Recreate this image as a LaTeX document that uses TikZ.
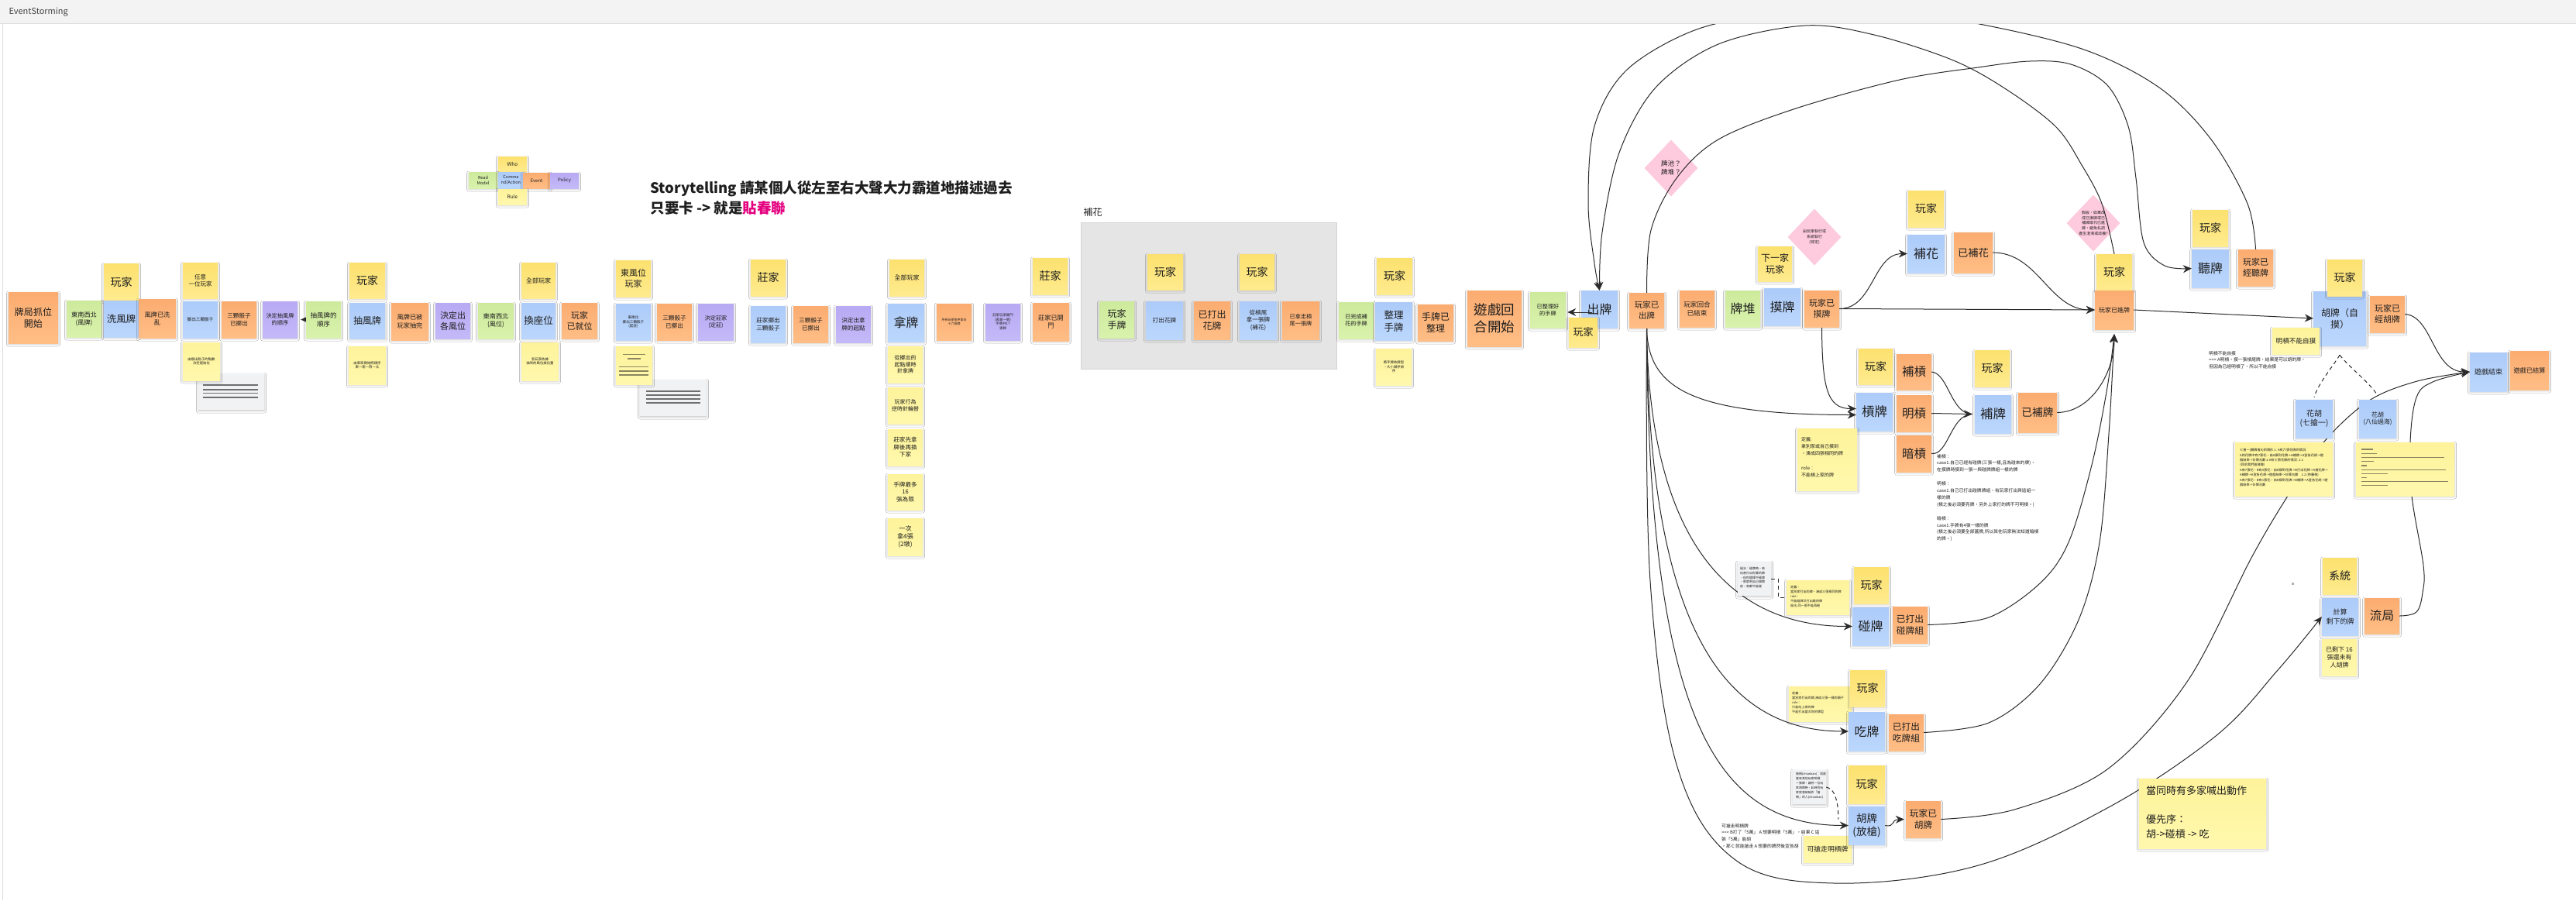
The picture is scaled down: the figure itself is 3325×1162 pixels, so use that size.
\documentclass[tikz,border=0pt]{standalone}
\usepackage{fontspec}
\setmainfont{Noto Sans CJK TC}
\usetikzlibrary{arrows.meta,shapes.geometric,shadows.blur}

\definecolor{Y1}{HTML}{FCE16E}\definecolor{Y2}{HTML}{FFEB8F}
\definecolor{R1}{HTML}{FEF39B}\definecolor{R2}{HTML}{FFF8AD}
\definecolor{B1}{HTML}{ADCBF9}\definecolor{B2}{HTML}{BBD7FD}
\definecolor{O1}{HTML}{FBAC70}\definecolor{O2}{HTML}{FFBE86}
\definecolor{G1}{HTML}{CDEA9C}\definecolor{G2}{HTML}{D9F2AC}
\definecolor{P1}{HTML}{B8AAF3}\definecolor{P2}{HTML}{C4B9F8}
\definecolor{pinkD}{HTML}{FECADD}
\definecolor{gboxF}{HTML}{E5E5E5}\definecolor{gboxD}{HTML}{D3D3D3}
\definecolor{gnoteF}{HTML}{F1F2F4}
\definecolor{ink}{HTML}{1E1E1E}
\definecolor{lk}{HTML}{2B2B2B}
\definecolor{phl}{HTML}{6E6E6E}
\definecolor{phy}{HTML}{8A8560}
\definecolor{springred}{HTML}{E4007F}
\definecolor{hdrfill}{HTML}{F3F3F3}
\definecolor{hdrline}{HTML}{DCDCDC}
\definecolor{hdrtext}{HTML}{444444}

\pgfdeclarelayer{back}
\pgfdeclarelayer{links}
\pgfdeclarelayer{front}
\pgfsetlayers{back,links,main,front}

\tikzset{
  fs/.code={\pgfmathsetmacro\fsbase{#1*1.25}%
    \edef\fsdo{\noexpand\pgfkeysalso{font=\noexpand\fontsize{#1}{\fsbase}\noexpand\selectfont}}\fsdo},
  fsb/.style 2 args={font=\fontsize{#1}{#2}\selectfont},
  stk/.style={draw=none, inner sep=1pt, align=center, text=ink,
    blur shadow={shadow xshift=0pt, shadow yshift=-1.5pt, shadow blur radius=2.5pt, shadow opacity=22}},
  who/.style={stk, top color=Y1, bottom color=Y2},
  rul/.style={stk, top color=R1, bottom color=R2},
  cmd/.style={stk, top color=B1, bottom color=B2},
  evt/.style={stk, top color=O1, bottom color=O2},
  rm/.style={stk, top color=G1, bottom color=G2},
  pol/.style={stk, top color=P1, bottom color=P2},
  gnote/.style={stk, fill=gnoteF},
  flowerbox/.style={draw=gboxD, line width=0.8pt, fill=gboxF},
  dia/.style={diamond, fill=pinkD, inner sep=0pt, align=center, text=ink, minimum width=69pt, minimum height=73pt},
  txt/.style={inner sep=0pt, align=left, text=ink},
  ln/.style={draw=lk, line width=1pt},
  arr/.style={ln, -{Stealth[length=11pt,width=10pt]}},
  dsh/.style={ln, dash pattern=on 5pt off 4pt},
  phline/.style={draw=phl, line width=1.4pt},
  phyline/.style={draw=phy, line width=1.2pt}
}

% sticky note from its corners: style, name, x1, y1, x2, y2, font size, text
\newcommand\mknote[8]{%
  \node[#1, fs=#7, minimum width={(#5)-(#3)}, minimum height={(#6)-(#4)}]
    (#2) at ({((#3)+(#5))/2},{((#4)+(#6))/2}) {#8};}

\begin{document}
\begin{tikzpicture}[x=1pt,y=-1pt]
\useasboundingbox (0,0) rectangle (3325,1162);

\node[anchor=south west, fs=12, text=ink] (flowerLbl) at (1395,283) {補花};

% headline
\node[anchor=base west, fs=18.5, text=ink] (storyA) at (836,249)
  {\bfseries Storytelling 請某個人從左至右大聲大力霸道地描述過去};
\node[anchor=base west, fs=18.5, text=ink] (storyB) at (836,275)
  {\bfseries 只要卡 -> 就是\textcolor{springred}{貼春聯}};

% legend
\mknote{who}{lgWho}{643}{202}{680}{221}{6.5}{Who}
\mknote{rm}{lgRead}{605}{222}{642}{243}{5.5}{Read\\Model}
\mknote{cmd}{lgCmd}{643}{222}{676}{243}{5.5}{Comma\\nd/Action}
\mknote{evt}{lgEvt}{675}{223}{710}{243}{6}{Event}
\mknote{pol}{lgPol}{710}{223}{747}{243}{6}{Policy}
\mknote{rul}{lgRule}{643}{244}{680}{264}{6.5}{Rule}

% ---------- seating ----------
\mknote{evt}{evStart}{11}{377}{75}{443}{12}{牌局抓位\\開始}
\mknote{rm}{rmWind}{86}{388}{131}{435}{8.2}{東南西北\\(風牌)}
\mknote{who}{whoA}{134}{340}{179}{388}{14}{玩家}
\mknote{cmd}{cmdShuffle}{134}{388}{179}{435}{12.5}{洗風牌}
\mknote{evt}{evShuffled}{179}{386}{227}{436}{8.2}{風牌已洗\\亂}
\mknote{who}{whoAny}{236}{339}{281}{385}{7.5}{任意\\一位玩家}
\mknote{cmd}{cmdDice}{236}{389}{281}{436}{5.6}{擲出三顆骰子}
\mknote{gnote}{gnA}{256}{482}{341}{529}{4}{}
\mknote{rul}{rulDice}{236}{442}{284}{491}{4.4}{由骰出點子的點數\\決定起始位}
\mknote{evt}{evDice}{286}{389}{331}{436}{7.6}{三顆骰子\\已擲出}
\mknote{pol}{polOrder}{339}{389}{384}{436}{7.2}{決定抽風牌\\的順序}
\mknote{rm}{rmOrder}{395}{389}{440}{436}{8.5}{抽風牌的\\順序}
\mknote{who}{whoB}{451}{339}{497}{385}{14}{玩家}
\mknote{cmd}{cmdDraw}{451}{391}{497}{437}{12}{抽風牌}
\mknote{rul}{rulDraw}{450}{447}{498}{496}{4.4}{由東家開始照順序\\東一南一西一北}
\mknote{evt}{evDrawn}{505}{391}{553}{439}{8.2}{風牌已被\\玩家抽完}

\mknote{pol}{polSeat}{562}{391}{607}{437}{11}{決定出\\各風位}
\mknote{rm}{rmSeat}{617}{391}{663}{437}{8.2}{東南西北\\(風位)}
\mknote{who}{whoAll}{673}{339}{717}{385}{8}{全部玩家}
\mknote{cmd}{cmdSwap}{673}{391}{717}{437}{12.5}{換座位}
\mknote{rul}{rulSwap}{673}{442}{721}{491}{4.4}{各玩家依據\\抽到的風位換位置}
\mknote{evt}{evSeated}{725}{391}{771}{437}{11}{玩家\\已就位}

% ---------- dealer ----------
\mknote{who}{whoEast}{795}{336}{840}{383}{11}{東風位\\玩家}
\mknote{cmd}{cmdEastDice}{795}{392}{840}{439}{4.6}{東風位\\擲出三顆骰子\\(起莊)}
\mknote{gnote}{gnB}{826}{490}{912}{537}{4}{}
\mknote{rul}{rulEast}{795}{447}{842}{496}{4}{}
\mknote{evt}{evDice2}{848}{392}{893}{439}{7.6}{三顆骰子\\已擲出}
\mknote{pol}{polDealer}{901}{392}{947}{439}{7.2}{決定莊家\\(定莊)}
\mknote{who}{whoDealer}{969}{335}{1014}{382}{14}{莊家}
\mknote{cmd}{cmdDealerDice}{969}{395}{1014}{442}{7.6}{莊家擲出\\三顆骰子}
\mknote{evt}{evDice3}{1024}{395}{1069}{442}{7.6}{三顆骰子\\已擲出}
\mknote{pol}{polStart}{1079}{395}{1124}{442}{7.6}{決定出拿\\牌的起點}

% ---------- dealing ----------
\mknote{who}{whoAll2}{1148}{335}{1193}{382}{8}{全部玩家}
\mknote{cmd}{cmdTake}{1146}{392}{1193}{441}{16}{拿牌}
\mknote{rul}{rulTakeA}{1146}{447}{1191}{494}{7}{從擲出的\\起點順時\\針拿牌}
\mknote{rul}{rulTakeB}{1146}{500}{1191}{547}{7}{玩家行為\\逆時針輪替}
\mknote{rul}{rulTakeC}{1146}{554}{1191}{601}{7.6}{莊家先拿\\牌後再換\\下家}
\mknote{rul}{rulTakeD}{1146}{612}{1191}{658}{7.6}{手牌最多\\16\\張為限}
\mknote{rul}{rulTakeE}{1146}{669}{1191}{717}{8.2}{一次\\拿4張\\(2墩)}
\mknote{evt}{evTaken}{1209}{392}{1254}{439}{4}{所有玩家依序拿去\\十六張牌}
\mknote{pol}{polOpen}{1272}{392}{1317}{439}{4.4}{莊家玩家開門\\(再拿一張)\\手牌共17\\張牌}
\mknote{who}{whoDealer2}{1333}{333}{1378}{380}{14}{莊家}
\mknote{evt}{evOpened}{1333}{391}{1380}{440}{8.2}{莊家已開\\門}

% ---------- flowers ----------
\mknote{rm}{rmHand}{1419}{389}{1464}{436}{12}{玩家\\手牌}
\mknote{who}{whoF1}{1481}{328}{1527}{374}{14}{玩家}
\mknote{cmd}{cmdFlower}{1479}{389}{1527}{438}{7.6}{打出花牌}
\mknote{evt}{evFlower}{1541}{389}{1588}{438}{12}{已打出\\花牌}
\mknote{who}{whoF2}{1600}{328}{1645}{374}{14}{玩家}
\mknote{cmd}{cmdTail}{1600}{389}{1648}{438}{7.6}{從槓尾\\拿一張牌\\(補花)}
\mknote{evt}{evTail}{1655}{389}{1703}{438}{7.2}{已拿走槓\\尾一張牌}
\mknote{rm}{rmDone}{1728}{390}{1773}{437}{7.2}{已完成補\\花的手牌}
\mknote{who}{whoSort}{1777}{333}{1823}{380}{14}{玩家}
\mknote{cmd}{cmdSort}{1775}{390}{1823}{439}{12.5}{整理\\手牌}
\mknote{evt}{evSorted}{1830}{393}{1876}{440}{12}{手牌已\\整理}
\mknote{rul}{rulSort}{1776}{450}{1822}{497}{4.4}{將手牌依牌型\\、大小順序排\\序}

% ---------- round ----------
\mknote{evt}{evRound}{1894}{375}{1964}{447}{17.5}{遊戲回\\合開始}
\mknote{rm}{rmSorted}{1975}{377}{2021}{423}{7.2}{已整理好\\的手牌}
\mknote{cmd}{cmdDiscard}{2041}{375}{2088}{423}{16}{出牌}
\mknote{who}{whoDiscard}{2025}{410}{2062}{448}{13}{玩家}
\mknote{evt}{evDiscarded}{2103}{378}{2148}{423}{10.5}{玩家已\\出牌}
\mknote{evt}{evTurnEnd}{2168}{375}{2213}{422}{8.6}{玩家回合\\已結束}
\mknote{rm}{rmWall}{2227}{375}{2272}{422}{16}{牌堆}
\mknote{cmd}{cmdPick}{2277}{372}{2324}{420}{16}{摸牌}
\mknote{who}{whoNext}{2269}{318}{2313}{363}{12}{下一家\\玩家}
\mknote{evt}{evPicked}{2329}{375}{2374}{422}{11}{玩家已\\摸牌}

\mknote{who}{whoFl}{2463}{246}{2509}{293}{14}{玩家}
\mknote{cmd}{cmdBuhua}{2462}{303}{2510}{352}{16}{補花}
\mknote{evt}{evBuhua}{2522}{300}{2572}{352}{13.3}{已補花}
\mknote{who}{whoIn}{2706}{328}{2752}{375}{14}{玩家}
\mknote{evt}{evIn}{2704}{375}{2754}{425}{8}{玩家已進牌}
\mknote{who}{whoTing}{2830}{271}{2876}{318}{14}{玩家}
\mknote{cmd}{cmdTing}{2829}{322}{2877}{371}{16}{聽牌}
\mknote{evt}{evTing}{2889}{322}{2934}{369}{11}{玩家已\\經聽牌}
\mknote{cmd}{cmdSelfWin}{2986}{376}{3054}{446}{12}{胡牌（自\\摸）}
\mknote{who}{whoSelf}{3004}{335}{3049}{382}{14}{玩家}
\mknote{rul}{rulSelf}{2933}{423}{2994}{457}{8.6}{明槓不能自摸}
\mknote{evt}{evSelfWin}{3059}{382}{3104}{429}{11}{玩家已\\經胡牌}
\mknote{cmd}{cmdFlowerA}{2963}{516}{3011}{565}{10}{花胡\\(七搶一)}
\mknote{cmd}{cmdFlowerB}{3045}{516}{3093}{565}{7.9}{花胡\\(八仙過海)}
\mknote{rul}{rulFlowerA}{2885}{571}{3011}{640}{4}{}
\mknote{rul}{rulFlowerB}{3041}{571}{3168}{640}{4}{}
\mknote{cmd}{cmdEnd}{3188}{455}{3236}{505}{9}{遊戲結束}
\mknote{evt}{evEnd}{3240}{453}{3290}{503}{8.2}{遊戲已結算}
\mknote{who}{whoSys}{2998}{720}{3042}{767}{14}{系統}
\mknote{cmd}{cmdCount}{2997}{772}{3044}{820}{9}{計算\\剩下的牌}
\mknote{evt}{evDraw}{3052}{772}{3097}{818}{15.6}{流局}
\mknote{rul}{rulCount}{2997}{825}{3042}{872}{8}{已剩下 16\\張還未有\\人胡牌}
\mknote{rul}{rulPriority}{2761}{1005}{2925}{1095}{13}{}

% ---------- kong ----------
\mknote{who}{whoKong}{2399}{450}{2443}{496}{14}{玩家}
\mknote{evt}{evAddKong}{2448}{457}{2493}{503}{15.5}{補槓}
\mknote{cmd}{cmdKong}{2396}{507}{2443}{556}{16.5}{槓牌}
\mknote{evt}{evOpenKong}{2448}{510}{2493}{557}{15.5}{明槓}
\mknote{evt}{evHiddenKong}{2448}{562}{2493}{609}{15.5}{暗槓}
\mknote{rul}{rulKong}{2320}{553}{2397}{633}{6}{}
\mknote{who}{whoRep}{2549}{452}{2594}{499}{14}{玩家}
\mknote{cmd}{cmdRep}{2549}{510}{2596}{559}{16.5}{補牌}
\mknote{evt}{evRep}{2605}{507}{2655}{558}{13.8}{已補牌}

% ---------- pong / chow / win ----------
\mknote{gnote}{gnPass}{2243}{725}{2286}{769}{4}{}
\mknote{rul}{rulPong}{2306}{749}{2387}{793}{4}{}
\mknote{who}{whoPong}{2393}{732}{2438}{779}{14}{玩家}
\mknote{cmd}{cmdPong}{2391}{784}{2438}{833}{16}{碰牌}
\mknote{evt}{evPong}{2443}{783}{2488}{830}{11.7}{已打出\\碰牌組}
\mknote{rul}{rulChow}{2309}{886}{2390}{931}{4}{}
\mknote{who}{whoChow}{2388}{865}{2433}{912}{14}{玩家}
\mknote{cmd}{cmdChow}{2386}{919}{2433}{969}{16}{吃牌}
\mknote{evt}{evChow}{2438}{922}{2483}{969}{11.7}{已打出\\吃牌組}
\mknote{who}{whoWin}{2386}{988}{2433}{1037}{14}{玩家}
\mknote{rul}{rulRob}{2328}{1079}{2390}{1113}{8.8}{可搶走明槓牌}
\mknote{cmd}{cmdWin}{2386}{1041}{2433}{1090}{13.5}{胡牌\\(放槍)}
\mknote{gnote}{gnRob}{2314}{994}{2357}{1038}{4}{}
\mknote{evt}{evWin}{2460}{1034}{2505}{1081}{11.7}{玩家已\\胡牌}

% ---------- free text and small print ----------
\node[txt, fsb={13}{18.7}, anchor=north west] (priorityTxt) at (2770,1014)
  {當同時有多家喊出動作\\ \\優先序：\\胡->碰槓 -> 吃};
\node[txt, fsb={5.8}{8.5}, anchor=north west] (noteSelf) at (2851,453)
  {明槓不能自摸\\==> A明槓，摸一張槓尾牌，結果是可以胡的牌，\\但因為已經明槓了，所以不能自摸};
\node[txt, fsb={5.8}{8.9}, anchor=north west] (noteKong) at (2500,586)
  {補槓：\\case1.自己已經有碰牌(三張一樣,且為碰來的牌)，\\在摸牌時摸到一張一與碰牌牌組一樣的牌\\ \\明槓：\\case1.自己已打出碰牌牌組，有玩家打出與這組一\\樣的牌\\(槓之後必須要亮牌，另外上家打的牌不可明槓。)\\ \\暗槓：\\case1.手牌有4張一樣的牌\\(槓之後必須要全部蓋牌,所以其他玩家無法知道暗槓\\的牌。)};
\node[txt, fsb={5.8}{8.8}, anchor=north west] (noteRob) at (2222,1063)
  {可搶走明槓牌\\==> B打了「5萬」 A 想要明槓「5萬」，結果 C 這\\張「5萬」能胡\\，那 C 就能搶走 A 想要的牌然後宣告胡};
\node[txt, fsb={6}{9.2}, anchor=north west] (rulKongTxt) at (2325,564)
  {定義:\\拿別家或自己摸到\\，湊成四張相同的牌\\ \\role：\\不能槓上家的牌};
\node[txt, fsb={4.1}{6}, anchor=north west] (rulPongTxt) at (2311,756)
  {定義：\\當別家打出的牌，湊成三張相同的牌\\role：\\不能碰牌又打出碰的牌\\過水,同一張不能再碰};
\node[txt, fsb={4.1}{6}, anchor=north west] (rulChowTxt) at (2313,893)
  {定義：\\當別家打出的牌,湊成三張一樣的順子\\role：\\只能吃上家的牌\\不能打出當次吃的牌型};
\node[txt, fsb={4}{5.8}, anchor=north west] (gnPassTxt) at (2246,732)
  {過水：碰牌時，有\\玩家打出你要的牌\\，但你選擇不碰牌\\，那麼到自己摸牌\\前，就都不能碰};
\node[txt, fsb={3.9}{5.9}, anchor=north west] (gnRobTxt) at (2318,997)
  {搶槓(chiankan)：就是\\當有其他玩家明槓\\一張牌，讓另一位玩\\家胡牌時，此時的玩\\家就會被稱作「搶\\槓」的人(chiankan)};
\node[txt, fsb={4.2}{6.4}, anchor=north west] (rulFlowerTxt) at (2891,579)
  {七搶一(聽牌者A)的情形 1. A有六張花牌的情況:\\A的花牌中有7張花，由A摸到花牌->A補牌->A宣告花胡->遊\\戲結束->計算台數 2.A有七張花牌的情況: 2.1\\(目前我們這樣做)\\A有7張花，B有0張花，由B摸到花牌->B打出花牌->A搶花牌->\\A補牌->A宣告花胡->遊戲結束->計算台數　2.2 (待審核)\\A有7張花，B有1張花，由B摸到花牌->B補牌->A宣告花胡->遊\\戲結束->計算台數};

% placeholder lines for unreadable small print
\foreach \yy in {497,503,507.5,513} \draw[phline] (262,\yy) -- (333,\yy);
\foreach \yy in {505,510,515,520} \draw[phline] (834,\yy) -- (904,\yy);
\draw[phyline] (804,457.5) -- (833,457.5);
\draw[phyline] (810,463) -- (827,463);
\foreach \yy in {473.5,479,484} \draw[phyline] (799,\yy) -- (837,\yy);
\foreach \yy/\xe in {580/3063,585.7/3068,590.7/3155,595.7/3064,601/3055,606.7/3157,611.7/3082,616.7/3055,621.7/3160,626.7/3082}
  \draw[phyline] (3048,\yy) -- (\xe,\yy);

% stray dot
\fill[gray!60] (2958,752) rectangle (2961,755);

% ---------- canvas, frame and open questions (bottom layer) ----------
\begin{pgfonlayer}{back}
\fill[white] (0,0) rectangle (3325,1162);
\node[flowerbox, minimum width=330pt, minimum height=189pt] (flowerBox) at (1560,381.5) {};
\node[dia, fs=8.6] (diaPool) at (2157,217) {牌池？\\牌堆？};
\node[dia, fsb={5}{7}] (diaWho) at (2342,306) {由玩家執行或\\系統執行\\(待定)};
\node[dia, fsb={5}{6.6}] (diaTerm) at (2702,288) {假設，如果改\\成已摸牌或已\\補牌取代已進\\牌，避免名詞\\產生混淆或歧義?};
\end{pgfonlayer}

% ---------- connectors ----------
\begin{pgfonlayer}{links}
\coordinate (inTip) at ([yshift=-6pt]evIn.south);
\draw[arr] ([xshift=6pt]rmOrder.west) -- ([xshift=4pt]polOrder.east);

% discard loops over the top
\draw[arr] plot[smooth, tension=0.55] coordinates {(whoIn.north) (2713,263) (2687,213) (2653,163) (2586,113) (2519,77) (2419,45) (2330,33) (2218,57) (2137,113) (2090,197) (2068,300) (cmdDiscard.north)};
\draw[arr] plot[smooth, tension=0.55] coordinates {(evTing.north) (2901,263) (2854,180) (2787,113) (2687,63) (2539,28) (2420,14) (2300,17) (2190,38) (2100,90) (2058,163) (2050,263) (2058,340) (cmdDiscard.north)};
\draw[arr] plot[smooth, tension=0.55] coordinates {(evDiscarded.north) (2131,297) (2164,230) (2218,180) (2318,140) (2452,103) (2553,87) (2620,79) (2673,83) (2720,110) (2747,163) (2757,230) (2767,313) (2794,343) (cmdTing.west)};

% drawing a tile
\draw[arr] (evPicked.east) to[out=0,in=180] (cmdBuhua.west);
\draw[arr] (evPicked.east) -- (evIn.west);
\draw[arr] (evBuhua.east) to[out=0,in=180] (evIn.west);
\draw[arr] (evPicked.south) .. controls (2352,500) and (2358,527.5) .. ([yshift=4pt]cmdKong.west);

% claims on a discarded tile
\draw[arr] (evDiscarded.south) .. controls (2127,500) and (2180,535.5) .. ([yshift=-4pt]cmdKong.west);
\draw[arr] (evDiscarded.south) .. controls (2128,680) and (2220,808.5) .. (cmdPong.west);
\draw[arr] (evDiscarded.south) .. controls (2128,800) and (2220,944) .. (cmdChow.west);
\draw[arr] (evDiscarded.south) .. controls (2128,940) and (2220,1065.5) .. (cmdWin.west);
\draw[arr] plot[smooth, tension=0.6] coordinates {(evDiscarded.south) (2130,750) (2165,990) (2240,1110) (2367,1140) (2550,1118) (2720,1043) (2860,950) (2940,865) (cmdCount.west)};

% kong replacement
\draw[ln] (evAddKong.east) .. controls (2515,482) and (2518,534.5) .. ([xshift=-3pt]cmdRep.west);
\draw[arr] (evOpenKong.east) -- ([xshift=-3pt]cmdRep.west);
\draw[ln] (evHiddenKong.east) .. controls (2515,588) and (2518,534.5) .. ([xshift=-3pt]cmdRep.west);
\draw[arr] (evRep.east) .. controls (2700,532) and (2729,480) .. (inTip);
\draw[arr] plot[smooth, tension=0.55] coordinates {(evPong.east) (2567,797) (2633,753) (2670,700) (2700,600) (2720,500) (inTip)};
\draw[arr] plot[smooth, tension=0.55] coordinates {(evChow.east) (2567,933) (2633,883) (2683,800) (2710,700) (2722,560) (inTip)};

% winning and game end
\draw[arr] (evIn.east) -- (cmdSelfWin.west);
\draw[dsh] ([yshift=-12pt]cmdSelfWin.south) .. controls (3012,472) and (2992,495) .. ([yshift=3pt]cmdFlowerA.north);
\draw[dsh] ([yshift=-12pt]cmdSelfWin.south) .. controls (3030,472) and (3060,495) .. ([yshift=5pt]cmdFlowerB.north);
\draw[arr] (evSelfWin.east) .. controls (3140,408) and (3140,480) .. (cmdEnd.west);
\draw[arr] plot[smooth, tension=0.55] coordinates {(evWin.east) (2600,1045) (2720,993) (2823,880) (2906,720) (2953,640) (3000,570) (3058,517) (3120,492) (cmdEnd.west)};
\draw[arr] plot[smooth, tension=0.6] coordinates {(evDraw.east) (3119,790) (3127,765) (3128,730) (3113,640) (3111,570) (3119,513) (3140,493) (cmdEnd.west)};

% notes hooked to cards
\draw[dsh] (gnPass.east) -- ++(9,0) |- (rulPong.west);
\draw[dsh] (gnRob.east) .. controls (2370,1018) and (2373,1040) .. ([xshift=-13pt,yshift=8pt]cmdWin.west);
\draw[arr] (cmdWin.east) .. controls (2447,1068) and (2440,1058) .. ([xshift=-2pt]evWin.west);
\end{pgfonlayer}

\begin{pgfonlayer}{front}
\draw[arr] ([xshift=14pt,yshift=-4pt]cmdDiscard.west) -- ([xshift=2pt,yshift=-3pt]rmSorted.east);
\fill[hdrfill] (0,0) rectangle (3325,30);
\draw[hdrline] (0,30) -- (3325,30);
\draw[hdrline] (3,30) -- (3,1162);
\node[anchor=west, fs=11, text=hdrtext] (boardTitle) at (8,16) {EventStorming};
\end{pgfonlayer}
\end{tikzpicture}
\end{document}
